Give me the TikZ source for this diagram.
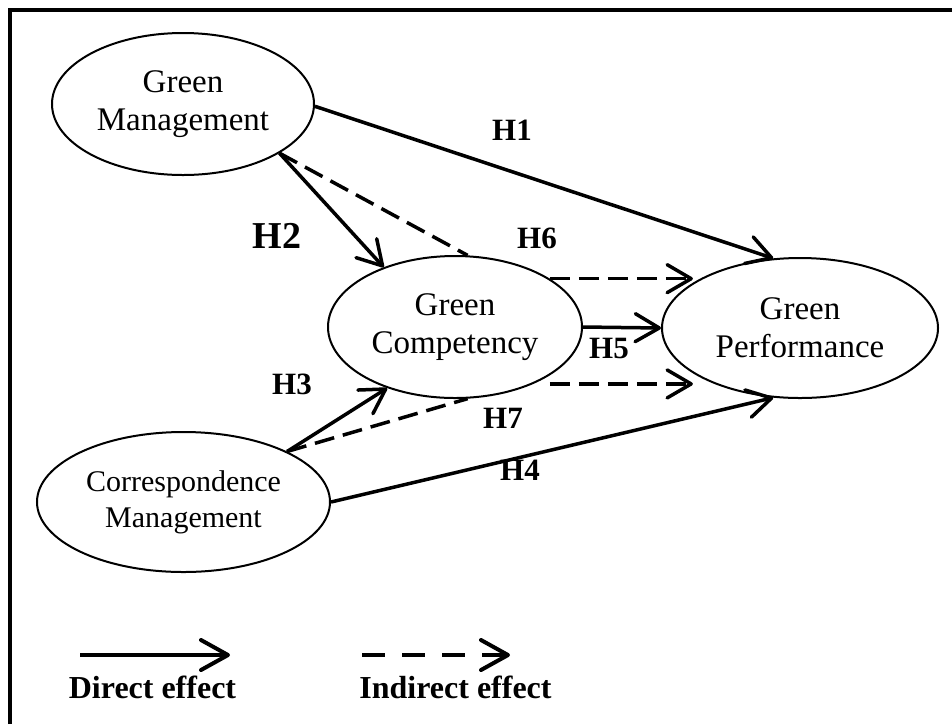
\documentclass[tikz,border=0pt]{standalone}
\usepackage{fontspec}
\setmainfont{Liberation Serif}
\usetikzlibrary{arrows.meta,shapes.geometric}
\begin{document}
\begin{tikzpicture}[x=1pt,y=-1pt,
  ell/.style={ellipse, draw, line width=2pt, inner sep=0pt, align=center, font=\fontsize{33}{38}\selectfont},
  tipstyle/.style={-{Straight Barb[length=24pt,width=28pt,line cap=round,line join=round]}},
  direct/.style={line width=3.5pt, tipstyle},
  indirect/.style={line width=3.5pt, tipstyle, dash pattern=on 20pt off 9pt},
  indline/.style={line width=3.5pt, dash pattern=on 20pt off 9pt},
  lab/.style={font=\fontsize{31}{31}\selectfont\bfseries, inner sep=0pt},
  leg/.style={font=\fontsize{32}{32}\selectfont\bfseries, inner sep=0pt, anchor=base},
]
\useasboundingbox (0,0) rectangle (952,724);
\fill[white] (0,0) rectangle (952,724);
\draw[line width=3.5pt] (10,724) -- (10,10) -- (952,10);

% ellipses
\node[ell, minimum width=262pt, minimum height=142pt] (gm) at (183,104) {Green\\Management};
\node[ell, minimum width=254pt, minimum height=142pt] (gc) at (455,327) {Green\\Competency};
\node[ell, minimum width=276pt, minimum height=140pt] (gp) at (800,328) {Green\\Performance};
\node[ell, minimum width=293pt, minimum height=140pt, font=\fontsize{30}{36}\selectfont] (cm) at (183.5,502) {Correspondence\\Management};

% direct effects
\draw[direct] (gm.-1) -- (gp.111);
\draw[direct] (gm.-27) -- (gc.140);
\draw[direct] (gc.0) -- (gp.180);
\draw[direct] (cm.26) -- (gc.-138);
\draw[direct] (cm.0) -- (gp.-111);

% indirect effects
\draw[indline] (gm.-27) -- (gc.80);
\draw[indline] (cm.26) -- (gc.-80);
\draw[indirect, shorten >=15pt] (gc.27) -- (gc.27 -| gp.150);
\draw[indirect, shorten >=15pt] (gc.-36 -| gc.27) -- (gc.-36 -| gp.-150);

% labels
\node[lab] (h1) at (512,130) {H1};
\node[lab, font=\fontsize{38}{38}\selectfont\bfseries] (h2) at (277,236) {H2};
\node[lab] (h6) at (537,238) {H6};
\node[lab] (h5) at (609,348) {H5};
\node[lab] (h3) at (292,384) {H3};
\node[lab] (h7) at (503,418) {H7};
\node[lab] (h4) at (520,470) {H4};

% legend
\coordinate (ls1) at (80,655);
\coordinate (le1) at (230,655);
\coordinate (ls2) at (362,655);
\coordinate (le2) at (510,655);
\draw[line width=4pt, -{Straight Barb[length=27pt,width=30pt,line cap=round,line join=round]}] (ls1) -- (le1);
\draw[line width=4pt, dash pattern=on 23pt off 17pt, -{Straight Barb[length=27pt,width=30pt,line cap=round,line join=round]}] (ls2) -- (le2);
\node[leg] (t1) at (152.5,698) {Direct effect};
\node[leg] (t2) at (455.5,698) {Indirect effect};
\end{tikzpicture}
\end{document}
